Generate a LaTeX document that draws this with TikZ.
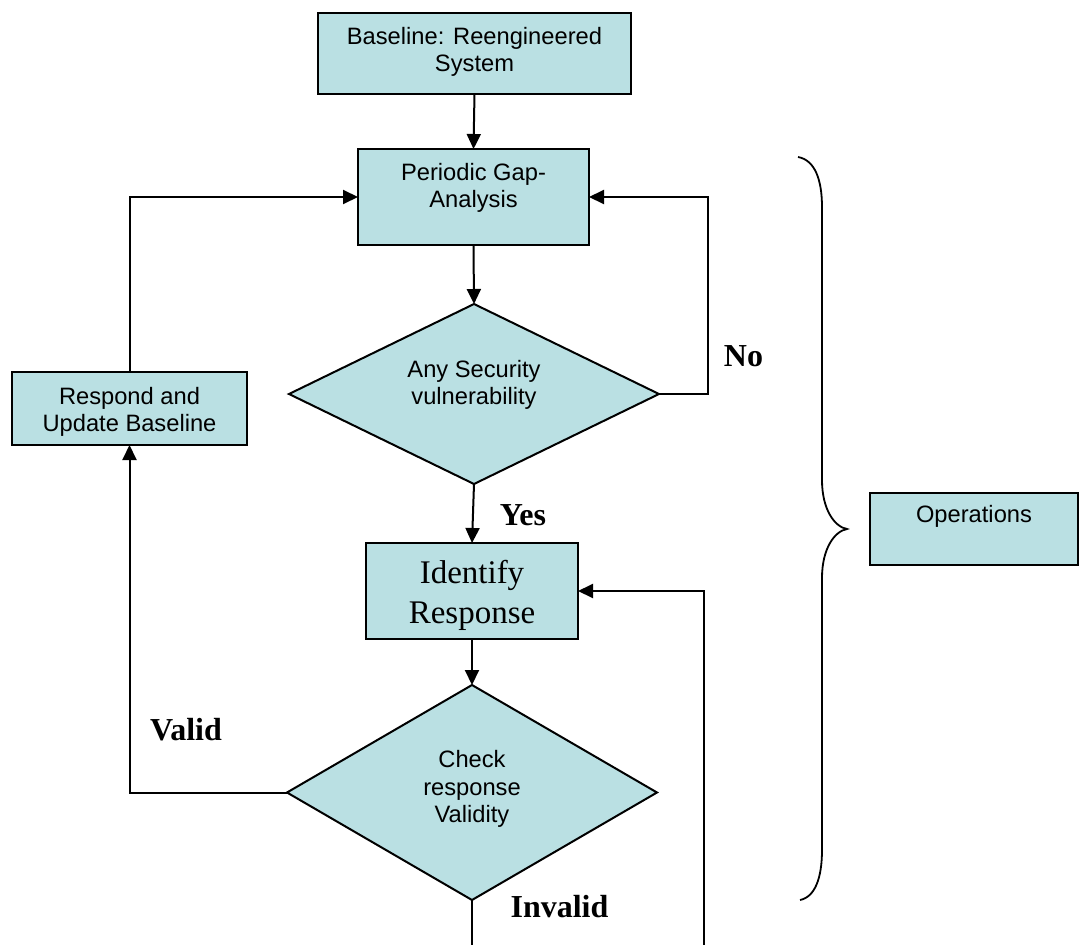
\documentclass[tikz,border=0pt]{standalone}
\usepackage{fontspec}
\setmainfont{Liberation Serif}
\newfontfamily\arialf{Liberation Sans}
\usetikzlibrary{shapes.geometric,arrows.meta}
\definecolor{boxfill}{RGB}{186,224,227}
\begin{document}
\begin{tikzpicture}[x=1pt,y=-1pt,line width=2pt,
  box/.style={draw,fill=boxfill,rectangle,inner sep=0pt,outer sep=0pt},
  dia/.style={draw,fill=boxfill,diamond,inner sep=0pt,outer sep=0pt},
  lbl/.style={font=\arialf\fontsize{23.7}{27.5}\selectfont,align=center,inner sep=0pt},
  serif/.style={font=\fontsize{33}{40}\selectfont,align=center,inner sep=0pt},
  tag/.style={font=\bfseries\fontsize{32}{36}\selectfont,inner sep=0pt},
  arr/.style={-{Triangle[length=15pt,width=14pt]}}]
\useasboundingbox (0,0) rectangle (1080,945);

% boxes
\node[box,minimum width=313pt,minimum height=81pt] (base) at (474.5,53.5) {};
\node[lbl] (baset) at (474.5,52) {Baseline: Reengineered\\System};
\node[box,minimum width=231pt,minimum height=96pt] (gap) at (473.5,197) {};
\node[lbl] (gapt) at (473.5,188) {Periodic Gap-\\Analysis};
\node[dia,minimum width=370pt,minimum height=180pt] (vuln) at (474,394) {};
\node[lbl] (vulnt) at (474,385) {Any Security\\vulnerability};
\node[box,minimum width=235pt,minimum height=73pt] (resp) at (129.5,408.5) {};
\node[lbl] (respt) at (129.5,412) {Respond and\\Update Baseline};
\node[box,minimum width=212pt,minimum height=96pt] (ident) at (472,591) {};
\node[serif] (identt) at (472,595) {Identify\\Response};
\node[dia,minimum width=370pt,minimum height=215pt] (check) at (472,792.5) {};
\node[lbl] (checkt) at (472,789) {Check\\response\\Validity};
\node[box,minimum width=208pt,minimum height=72pt] (ops) at (974,529) {};
\node[lbl] (opst) at (974,516) {Operations};

% labels
\node[tag] (no) at (743.5,356) {No};
\node[tag] (yes) at (523,515) {Yes};
\node[tag] (valid) at (186,730) {Valid};
\node[tag] (invalid) at (559.5,907) {Invalid};

% free ends
\coordinate (bot1) at (472,945);
\coordinate (bot2) at (704,945);

% connectors
\draw[arr] (base.south) -- (gap.north);
\draw[arr] (gap.south) -- (vuln.north);
\draw[arr] (vuln.east) -- (708,394) -- (708,197) -- (gap.east);
\draw[arr] (vuln.south) -- (ident.north);
\draw[arr] (ident.south) -- (check.north);
\draw[arr] (check.west) -- (resp.south |- check.west) -- (resp.south);
\draw[arr] (resp.north) -- (resp.north |- gap.west) -- (gap.west);
\draw (check.south) -- (bot1);
\draw[arr] (bot2) -- (bot2 |- ident.east) -- (ident.east);

% brace
\draw[line width=1.8pt] (798,157) .. controls (815,160) and (822,180) .. (822,207)
  -- (822,480) .. controls (822,510) and (835,527) .. (847,529)
  .. controls (835,531) and (822,548) .. (822,578)
  -- (822,850) .. controls (822,878) and (815,897) .. (800,900);
\end{tikzpicture}
\end{document}
